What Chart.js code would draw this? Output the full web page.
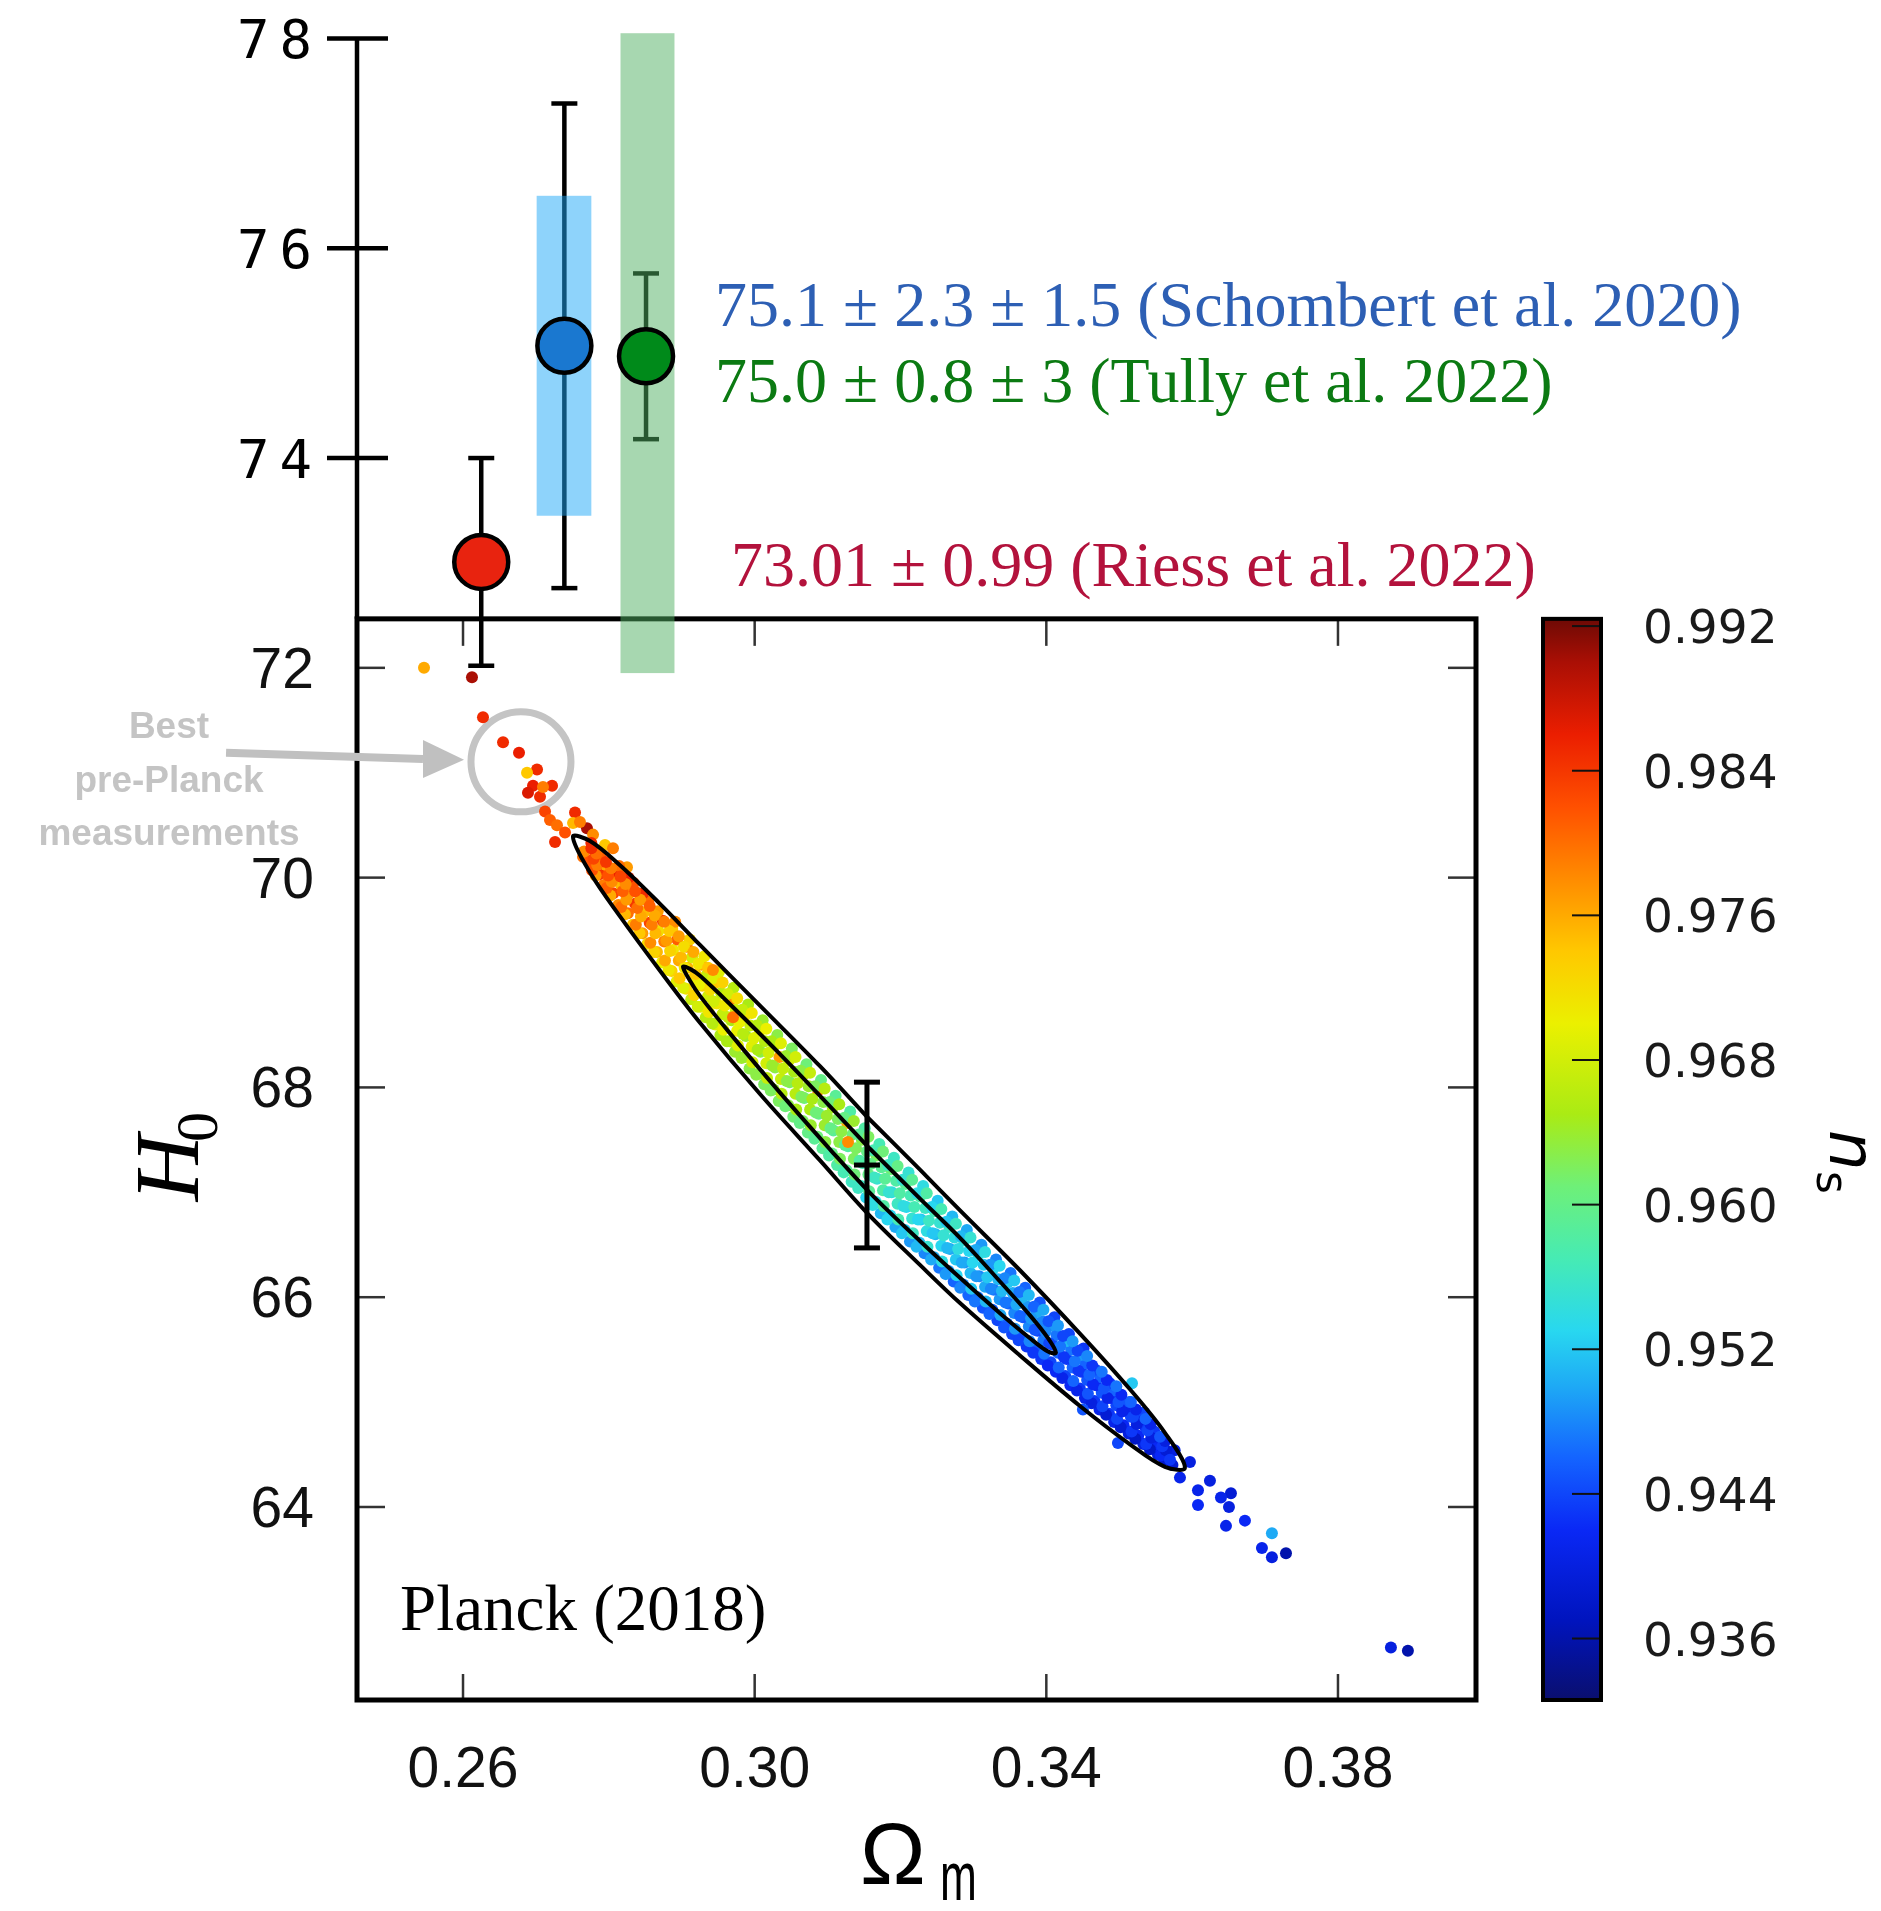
<!DOCTYPE html>
<html>
<head>
<meta charset="utf-8">
<script src="https://cdn.jsdelivr.net/npm/chart.js@4.4.1/dist/chart.umd.min.js"></script>
<style>
  html, body { margin: 0; padding: 0; background: #fff; }
  #wrap { width: 1881px; height: 1911px; }
</style>
</head>
<body>
<div id="wrap"><canvas id="c" width="1881" height="1911"></canvas></div>
<script>
"use strict";

// Tick labels
const xTicks = [0.26, 0.30, 0.34, 0.38];
const yTicksLow = [64, 66, 68, 70, 72];
const yTicksUp = [74, 76, 78];
const nsTicks = [0.936, 0.944, 0.952, 0.960, 0.968, 0.976, 0.984, 0.992];

// Local H0 measurements (upper panel): Riess, Schombert, Tully
const measOm = [0.2625, 0.2739, 0.2851];
const measH0 = [73.01, 75.07, 74.97];
const measErr = [0.99, 2.31, 0.79];
const measColor = ["#e8230f", "#1a78d0", "#008a1a"];
const bandOmLo = [null, 0.2701, 0.2816];
const bandOmHi = [null, 0.2776, 0.2890];
const bandH0Lo = [null, 73.45, 71.95];
const bandH0Hi = [null, 76.50, 78.05];

// Planck point with error bar
const planckOm = 0.3154;
const planckH0 = 67.26;
const planckErr = 0.79;

// Contours (outer and inner)
const outerOm = [0.3154, 0.32267, 0.32816, 0.33638, 0.34461, 0.35147, 0.35627, 0.35901,
  0.35627, 0.35147, 0.34461, 0.33638, 0.32816, 0.32267, 0.3154, 0.30896, 0.30073, 0.2925,
  0.28702, 0.28153, 0.27742, 0.27508, 0.27742, 0.28153, 0.28702, 0.2925, 0.30073, 0.30896, 0.3154];
const outerH0 = [67.720, 67.216, 66.827, 66.257, 65.653, 65.122, 64.707, 64.374,
  64.383, 64.598, 64.963, 65.445, 65.944, 66.308, 66.805, 67.304, 67.937, 68.617,
  69.112, 69.630, 70.048, 70.389, 70.349, 70.118, 69.750, 69.358, 68.780, 68.202, 67.720];
const innerOm = [0.31581, 0.32267, 0.32816, 0.33364, 0.33776, 0.34023, 0.34132,
  0.34023, 0.33776, 0.33364, 0.32816, 0.32267, 0.31581, 0.31033, 0.30347, 0.29662, 0.2925,
  0.29113, 0.29017, 0.29113, 0.2925, 0.29662, 0.30347, 0.31033, 0.31581];
const innerH0 = [67.415, 66.940, 66.566, 66.150, 65.827, 65.610, 65.470,
  65.482, 65.609, 65.848, 66.185, 66.536, 66.995, 67.410, 67.950, 68.515, 68.873,
  69.017, 69.150, 69.130, 69.064, 68.793, 68.318, 67.820, 67.415];

// Chain samples [Omega_m, H0, n_s]
const samples = [
  [0.25465,72.00,0.976],[0.26123,71.91,0.990],[0.26274,71.53,0.985],[0.26549,71.29,0.985],
  [0.26768,71.19,0.986],[0.27015,71.03,0.985],[0.26878,71.00,0.974],[0.2696,70.875,0.986],
  [0.26891,70.81,0.987],[0.27056,70.77,0.985],[0.27221,70.875,0.985],[0.27097,70.865,0.979],
  [0.27125,70.63,0.983],[0.27193,70.55,0.981],[0.27289,70.50,0.980],[0.27262,70.34,0.985],
  [0.27399,70.43,0.982],[0.27536,70.62,0.985],[0.27509,70.52,0.975],[0.27700,70.47,0.990],
  [0.27604,70.53,0.979],[0.27783,70.41,0.978],[0.27947,70.31,0.974],[0.28057,70.28,0.979],
  [0.28249,70.10,0.977],[0.27975,70.07,0.985],[0.27838,70.14,0.983],[0.27646,70.20,0.980],
  [0.2773,70.15,0.982],[0.2766,70.25,0.978],[0.2776,70.33,0.985],
  [0.2793,69.93,0.979],[0.2786,70.03,0.984],[0.2796,70.12,0.976],[0.2788,70.21,0.981],
  [0.2813,69.74,0.978],[0.2806,69.85,0.983],[0.2816,69.94,0.975],[0.2808,70.03,0.986],[0.2814,70.11,0.980],
  [0.2833,69.55,0.974],[0.2826,69.66,0.980],[0.2836,69.75,0.984],[0.2828,69.85,0.977],[0.2834,69.95,0.982],[0.2827,70.00,0.986],
  [0.2853,69.37,0.972],[0.2846,69.47,0.977],[0.2856,69.57,0.983],[0.2848,69.67,0.975],[0.2854,69.77,0.980],[0.2847,69.85,0.985],
  [0.2873,69.19,0.970],[0.2866,69.29,0.975],[0.2876,69.39,0.979],[0.2868,69.49,0.972],[0.2874,69.59,0.984],[0.2867,69.68,0.977],
  [0.2893,69.01,0.969],[0.2886,69.11,0.973],[0.2896,69.21,0.976],[0.2888,69.31,0.971],[0.2894,69.41,0.981],[0.2887,69.51,0.974],[0.2891,69.58,0.978],
  [0.2913,68.84,0.967],[0.2906,68.94,0.972],[0.2916,69.04,0.970],[0.2908,69.14,0.975],[0.2914,69.24,0.968],[0.2907,69.34,0.979],[0.2911,69.41,0.973],
  [0.2933,68.67,0.966],[0.2926,68.77,0.970],[0.2936,68.87,0.968],[0.2928,68.97,0.973],[0.2934,69.07,0.967],[0.2927,69.17,0.976],[0.2931,69.25,0.971],
  [0.2953,68.50,0.965],[0.2946,68.60,0.969],[0.2956,68.70,0.967],[0.2948,68.80,0.971],[0.2954,68.90,0.966],[0.2947,69.00,0.974],[0.2951,69.10,0.969],
  [0.2973,68.34,0.964],[0.2966,68.44,0.967],[0.2976,68.54,0.970],[0.2968,68.64,0.965],[0.2974,68.74,0.968],[0.2967,68.84,0.978],[0.2971,68.95,0.966],
  [0.2993,68.18,0.963],[0.2986,68.29,0.966],[0.2996,68.39,0.969],[0.2988,68.49,0.964],[0.2994,68.59,0.967],[0.2987,68.69,0.971],[0.2991,68.79,0.965],
  [0.3013,68.03,0.962],[0.3006,68.13,0.965],[0.3016,68.23,0.968],[0.3008,68.34,0.963],[0.3014,68.44,0.966],[0.3007,68.54,0.969],[0.3011,68.64,0.964],
  [0.3033,67.87,0.962],[0.3026,67.98,0.964],[0.3036,68.08,0.967],[0.3028,68.19,0.963],[0.3034,68.29,0.977],[0.3027,68.40,0.966],[0.3031,68.50,0.963],
  [0.3053,67.72,0.961],[0.3046,67.83,0.963],[0.3056,67.94,0.966],[0.3048,68.05,0.962],[0.3054,68.15,0.965],[0.3047,68.26,0.968],[0.3051,68.37,0.962],
  [0.3073,67.57,0.960],[0.3066,67.68,0.962],[0.3076,67.79,0.965],[0.3068,67.90,0.961],[0.3074,68.01,0.964],[0.3067,68.12,0.967],[0.3071,68.22,0.961],
  [0.3093,67.42,0.959],[0.3086,67.53,0.961],[0.3096,67.64,0.964],[0.3088,67.75,0.960],[0.3094,67.86,0.963],[0.3087,67.97,0.979],[0.3091,68.07,0.960],
  [0.3113,67.26,0.958],[0.3106,67.37,0.960],[0.3116,67.48,0.963],[0.3108,67.59,0.959],[0.3114,67.70,0.962],[0.3107,67.81,0.965],[0.3111,67.92,0.959],
  [0.3133,67.10,0.956],[0.3126,67.21,0.959],[0.3136,67.32,0.962],[0.3128,67.44,0.958],[0.3134,67.55,0.961],[0.3127,67.66,0.976],[0.3131,67.77,0.958],
  [0.3153,66.95,0.953],[0.3146,67.06,0.956],[0.3156,67.17,0.960],[0.3148,67.28,0.957],[0.3154,67.39,0.960],[0.3147,67.50,0.963],[0.3151,67.61,0.958],
  [0.3173,66.80,0.951],[0.3166,66.91,0.954],[0.3176,67.02,0.958],[0.3168,67.13,0.955],[0.3174,67.24,0.959],[0.3167,67.35,0.962],[0.3171,67.46,0.957],
  [0.3193,66.67,0.950],[0.3186,66.78,0.953],[0.3196,66.89,0.956],[0.3188,67.00,0.954],[0.3194,67.11,0.958],[0.3187,67.22,0.961],[0.3191,67.33,0.956],
  [0.3213,66.53,0.949],[0.3206,66.64,0.952],[0.3216,66.75,0.955],[0.3208,66.86,0.953],[0.3214,66.97,0.957],[0.3207,67.08,0.959],[0.3211,67.19,0.955],
  [0.3233,66.42,0.948],[0.3226,66.52,0.951],[0.3236,66.63,0.954],[0.3228,66.74,0.952],[0.3234,66.85,0.956],[0.3227,66.96,0.958],[0.3231,67.06,0.954],
  [0.3253,66.28,0.947],[0.3246,66.38,0.950],[0.3256,66.49,0.953],[0.3248,66.60,0.951],[0.3254,66.71,0.955],[0.3247,66.82,0.957],[0.3251,66.92,0.952],
  [0.3273,66.15,0.946],[0.3266,66.25,0.949],[0.3276,66.36,0.952],[0.3268,66.46,0.950],[0.3274,66.57,0.954],[0.3267,66.67,0.956],[0.3271,66.77,0.951],
  [0.3293,66.02,0.946],[0.3286,66.12,0.948],[0.3296,66.23,0.951],[0.3288,66.33,0.949],[0.3294,66.44,0.953],[0.3287,66.54,0.955],[0.3291,66.64,0.950],
  [0.3313,65.90,0.945],[0.3306,66.00,0.947],[0.3316,66.10,0.950],[0.3308,66.20,0.948],[0.3314,66.31,0.952],[0.3307,66.41,0.954],[0.3311,66.50,0.949],
  [0.3333,65.78,0.944],[0.3326,65.88,0.946],[0.3336,65.98,0.949],[0.3328,66.07,0.947],[0.3334,66.17,0.951],[0.3327,66.27,0.953],[0.3331,66.36,0.948],
  [0.3353,65.65,0.944],[0.3346,65.75,0.946],[0.3356,65.85,0.948],[0.3348,65.94,0.946],[0.3354,66.04,0.950],[0.3347,66.14,0.952],[0.3351,66.23,0.947],
  [0.3373,65.53,0.943],[0.3366,65.62,0.945],[0.3376,65.72,0.948],[0.3368,65.81,0.945],[0.3374,65.91,0.949],[0.3367,66.00,0.951],[0.3371,66.09,0.946],
  [0.3393,65.41,0.943],[0.3386,65.50,0.945],[0.3396,65.59,0.947],[0.3388,65.68,0.944],[0.3394,65.77,0.948],[0.3387,65.86,0.950],[0.3391,65.95,0.945],
  [0.3413,65.29,0.942],[0.3406,65.38,0.944],[0.3416,65.47,0.946],[0.3408,65.55,0.944],[0.3414,65.64,0.947],[0.3407,65.73,0.949],[0.3411,65.81,0.944],
  [0.3433,65.16,0.942],[0.3426,65.25,0.944],[0.3436,65.33,0.946],[0.3428,65.41,0.943],[0.3434,65.50,0.947],[0.3427,65.58,0.951],[0.3431,65.65,0.944],
  [0.3453,65.04,0.941],[0.3446,65.13,0.943],[0.3456,65.21,0.945],[0.3448,65.29,0.943],[0.3454,65.37,0.946],[0.3447,65.45,0.949],[0.3451,65.51,0.943],
  [0.3473,64.93,0.941],[0.3466,65.01,0.943],[0.3476,65.09,0.945],[0.3468,65.16,0.942],[0.3474,65.24,0.946],[0.3467,65.31,0.944],
  [0.3493,64.81,0.941],[0.3486,64.89,0.943],[0.3496,64.97,0.944],[0.3488,65.04,0.942],[0.3494,65.11,0.946],[0.3487,65.18,0.943],
  [0.3513,64.70,0.940],[0.3506,64.78,0.942],[0.3516,64.86,0.944],[0.3508,64.93,0.941],[0.3514,65.00,0.945],
  [0.3533,64.60,0.940],[0.3526,64.68,0.942],[0.3536,64.76,0.943],[0.3528,64.83,0.941],[0.3534,64.90,0.944],
  [0.3553,64.50,0.940],[0.3546,64.58,0.942],[0.3556,64.65,0.941],[0.3548,64.72,0.943],
  [0.3573,64.40,0.939],[0.3566,64.47,0.941],[0.3576,64.54,0.940],
  // second pass, between the rows above
  [0.2782,70.02,0.977],[0.2777,70.07,0.982],[0.2784,70.12,0.979],[0.2779,70.18,0.983],[0.2783,70.23,0.980],[0.2776,70.28,0.985],
  [0.2802,69.83,0.976],[0.2797,69.90,0.981],[0.2804,69.96,0.978],[0.2799,70.02,0.982],[0.2803,70.09,0.979],[0.2796,70.15,0.984],
  [0.2822,69.65,0.975],[0.2817,69.72,0.980],[0.2824,69.79,0.977],[0.2819,69.87,0.981],[0.2823,69.94,0.978],[0.2816,70.01,0.983],
  [0.2842,69.47,0.974],[0.2837,69.55,0.979],[0.2844,69.63,0.976],[0.2839,69.71,0.980],[0.2843,69.79,0.977],[0.2836,69.87,0.982],
  [0.2862,69.29,0.973],[0.2857,69.38,0.978],[0.2864,69.47,0.975],[0.2859,69.55,0.979],[0.2863,69.64,0.976],[0.2856,69.73,0.981],
  [0.2882,69.12,0.971],[0.2877,69.21,0.976],[0.2884,69.30,0.973],[0.2879,69.40,0.977],[0.2883,69.49,0.974],[0.2876,69.58,0.979],
  [0.2902,68.95,0.969],[0.2897,69.04,0.974],[0.2904,69.14,0.971],[0.2899,69.24,0.975],[0.2903,69.34,0.972],[0.2896,69.44,0.977],
  [0.2922,68.77,0.968],[0.2917,68.88,0.973],[0.2924,68.98,0.970],[0.2919,69.08,0.974],[0.2923,69.18,0.971],[0.2916,69.29,0.976],
  [0.2942,68.61,0.966],[0.2937,68.72,0.971],[0.2944,68.82,0.968],[0.2939,68.93,0.972],[0.2943,69.04,0.969],[0.2936,69.14,0.974],
  [0.2962,68.44,0.965],[0.2957,68.55,0.970],[0.2964,68.67,0.967],[0.2959,68.78,0.971],[0.2963,68.89,0.968],[0.2956,69.00,0.973],
  [0.2982,68.28,0.964],[0.2977,68.40,0.969],[0.2984,68.51,0.966],[0.2979,68.62,0.970],[0.2983,68.74,0.967],[0.2976,68.85,0.972],
  [0.3002,68.12,0.963],[0.2997,68.24,0.968],[0.3004,68.36,0.965],[0.2999,68.47,0.969],[0.3003,68.59,0.966],[0.2996,68.71,0.971],
  [0.3022,67.97,0.962],[0.3017,68.09,0.967],[0.3024,68.21,0.964],[0.3019,68.33,0.968],[0.3023,68.44,0.965],[0.3016,68.56,0.970],
  [0.3042,67.82,0.961],[0.3037,67.94,0.966],[0.3044,68.06,0.963],[0.3039,68.18,0.967],[0.3043,68.30,0.964],[0.3036,68.42,0.969],
  [0.3062,67.66,0.960],[0.3057,67.79,0.965],[0.3064,67.91,0.962],[0.3059,68.04,0.966],[0.3063,68.16,0.963],[0.3056,68.29,0.968],
  [0.3082,67.51,0.959],[0.3077,67.64,0.964],[0.3084,67.76,0.961],[0.3079,67.89,0.965],[0.3083,68.01,0.962],[0.3076,68.14,0.967],
  [0.3102,67.35,0.958],[0.3097,67.48,0.963],[0.3104,67.61,0.960],[0.3099,67.73,0.964],[0.3103,67.86,0.961],[0.3096,67.99,0.966],
  [0.3122,67.19,0.957],[0.3117,67.32,0.962],[0.3124,67.45,0.959],[0.3119,67.58,0.963],[0.3123,67.71,0.960],[0.3116,67.84,0.965],
  [0.3142,67.04,0.956],[0.3137,67.17,0.961],[0.3144,67.30,0.958],[0.3139,67.42,0.962],[0.3143,67.55,0.959],[0.3136,67.68,0.964],
  [0.3162,66.88,0.954],[0.3157,67.01,0.959],[0.3164,67.14,0.956],[0.3159,67.27,0.960],[0.3163,67.40,0.957],[0.3156,67.53,0.962],
  [0.3182,66.74,0.953],[0.3177,66.87,0.958],[0.3184,67.00,0.955],[0.3179,67.13,0.959],[0.3183,67.26,0.956],[0.3176,67.39,0.961],
  [0.3202,66.61,0.952],[0.3197,66.74,0.957],[0.3204,66.87,0.954],[0.3199,66.99,0.958],[0.3203,67.12,0.955],[0.3196,67.25,0.960],
  [0.3222,66.48,0.951],[0.3217,66.61,0.956],[0.3224,66.74,0.953],[0.3219,66.86,0.957],[0.3223,66.99,0.954],[0.3216,67.12,0.959],
  [0.3242,66.36,0.950],[0.3237,66.48,0.955],[0.3244,66.61,0.952],[0.3239,66.73,0.956],[0.3243,66.86,0.953],[0.3236,66.99,0.958],
  [0.3262,66.22,0.949],[0.3257,66.34,0.954],[0.3264,66.47,0.951],[0.3259,66.59,0.955],[0.3263,66.72,0.952],[0.3256,66.84,0.957],
  [0.3282,66.09,0.948],[0.3277,66.21,0.953],[0.3284,66.33,0.950],[0.3279,66.46,0.954],[0.3283,66.58,0.951],[0.3276,66.70,0.956],
  [0.3302,65.96,0.947],[0.3297,66.08,0.952],[0.3304,66.20,0.949],[0.3299,66.33,0.953],[0.3303,66.45,0.950],[0.3296,66.57,0.955],
  [0.3322,65.84,0.946],[0.3317,65.96,0.951],[0.3324,66.08,0.948],[0.3319,66.19,0.952],[0.3323,66.31,0.949],[0.3316,66.43,0.954],
  [0.3342,65.71,0.945],[0.3337,65.83,0.950],[0.3344,65.95,0.947],[0.3339,66.06,0.951],[0.3343,66.18,0.948],[0.3336,66.30,0.953],
  [0.3362,65.59,0.944],[0.3357,65.70,0.949],[0.3364,65.82,0.946],[0.3359,65.93,0.950],[0.3363,66.05,0.947],[0.3356,66.16,0.952],
  [0.3382,65.47,0.943],[0.3377,65.58,0.948],[0.3384,65.69,0.945],[0.3379,65.80,0.949],[0.3383,65.91,0.946],[0.3376,66.02,0.951],
  [0.3402,65.35,0.942],[0.3397,65.46,0.947],[0.3404,65.56,0.944],[0.3399,65.67,0.948],[0.3403,65.77,0.945],[0.3396,65.88,0.950],
  [0.3422,65.23,0.941],[0.3417,65.33,0.946],[0.3424,65.43,0.943],[0.3419,65.53,0.947],[0.3423,65.63,0.944],[0.3416,65.73,0.949],
  [0.3442,65.11,0.941],[0.3437,65.20,0.946],[0.3444,65.30,0.943],[0.3439,65.39,0.947],[0.3443,65.49,0.944],[0.3436,65.58,0.949],
  [0.3462,64.99,0.940],[0.3457,65.08,0.945],[0.3464,65.17,0.942],[0.3459,65.26,0.946],[0.3463,65.35,0.943],[0.3456,65.44,0.948],
  [0.3482,64.88,0.939],[0.3477,64.96,0.944],[0.3484,65.04,0.941],[0.3479,65.13,0.945],[0.3483,65.21,0.942],[0.3476,65.29,0.947],
  [0.3502,64.76,0.939],[0.3497,64.84,0.944],[0.3504,64.91,0.941],[0.3499,65.00,0.945],[0.3503,65.07,0.942],[0.3496,65.15,0.947],
  [0.3522,64.65,0.938],[0.3517,64.72,0.943],[0.3524,64.79,0.940],[0.3519,64.86,0.944],[0.3523,64.93,0.941],[0.3516,65.00,0.946],
  [0.3542,64.55,0.938],[0.3537,64.60,0.943],[0.3544,64.66,0.940],[0.3539,64.73,0.944],[0.3543,64.79,0.941],[0.3536,64.84,0.946],
  [0.3562,64.45,0.938],[0.3557,64.49,0.942],[0.3564,64.54,0.939],[0.3559,64.58,0.943],[0.3563,64.63,0.940],[0.3556,64.67,0.945],
  // tails and strays
  [0.35833,64.28,0.941],[0.35696,64.45,0.943],[0.3597,64.43,0.940],[0.34982,64.61,0.944],[0.34502,64.93,0.945],
  [0.35175,65.18,0.952],[0.36080,64.16,0.941],[0.36244,64.25,0.940],[0.36532,64.13,0.939],[0.36395,64.09,0.941],
  [0.3608,64.02,0.942],[0.36505,64.00,0.940],[0.36464,63.82,0.941],[0.36724,63.87,0.942],[0.37094,63.75,0.950],
  [0.36957,63.61,0.941],[0.37094,63.52,0.940],[0.37287,63.56,0.936],[0.38726,62.66,0.940],[0.38959,62.63,0.936],
  [0.29703,68.67,0.980],[0.3128,67.48,0.978],[0.29428,69.12,0.978]
];

// jet-like colour map for n_s
const nsMin = 0.9326, nsMax = 0.9924;
const nsStops = [
  [0.9326, [10, 15, 110]], [0.9370, [0, 20, 190]], [0.9420, [10, 40, 245]],
  [0.9460, [20, 100, 255]], [0.9500, [30, 170, 245]], [0.9530, [40, 215, 240]],
  [0.9570, [70, 235, 180]], [0.9610, [110, 240, 120]], [0.9650, [170, 235, 20]],
  [0.9700, [235, 240, 0]], [0.9740, [255, 200, 0]], [0.9780, [255, 140, 0]],
  [0.9820, [255, 80, 0]], [0.9860, [235, 30, 0]], [0.9900, [170, 15, 5]],
  [0.9924, [110, 10, 5]]
];
function nsColor(v) {
  if (v <= nsStops[0][0]) return "rgb(" + nsStops[0][1].join(",") + ")";
  for (let i = 1; i < nsStops.length; i++) {
    if (v <= nsStops[i][0]) {
      const a = nsStops[i - 1], b = nsStops[i];
      const t = (v - a[0]) / (b[0] - a[0]);
      const c = a[1].map((q, k) => Math.round(q + (b[1][k] - q) * t));
      return "rgb(" + c.join(",") + ")";
    }
  }
  return "rgb(" + nsStops[nsStops.length - 1][1].join(",") + ")";
}

const PANEL_TOP = 72.467;   // H0 where the Planck box starts

function line(ctx, x1, y1, x2, y2) {
  ctx.beginPath(); ctx.moveTo(x1, y1); ctx.lineTo(x2, y2); ctx.stroke();
}

const decor = {
  id: "decor",
  beforeDatasetsDraw(chart) {
    const { ctx, chartArea: a, scales: { x, y } } = chart;
    const top = y.getPixelForValue(PANEL_TOP);
    const bot = a.bottom;
    ctx.save();
    ctx.lineCap = "butt";

    // annotation ring
    ctx.strokeStyle = "#c4c4c4";
    ctx.lineWidth = 7;
    ctx.beginPath();
    ctx.arc(x.getPixelForValue(0.26795), y.getPixelForValue(71.104), 50, 0, Math.PI * 2);
    ctx.stroke();

    // box ticks
    ctx.strokeStyle = "#333";
    ctx.lineWidth = 2.5;
    xTicks.forEach(v => {
      const px = x.getPixelForValue(v);
      line(ctx, px, bot, px, bot - 26);
      line(ctx, px, top, px, top + 27);
    });
    yTicksLow.forEach(v => {
      const py = y.getPixelForValue(v);
      line(ctx, a.left, py, a.left + 28, py);
      line(ctx, a.right, py, a.right - 28, py);
    });

    // box
    ctx.strokeStyle = "#000";
    ctx.lineWidth = 5;
    ctx.strokeRect(a.left, top, a.right - a.left, bot - top);

    // upper axis
    ctx.lineWidth = 4.5;
    line(ctx, a.left, y.getPixelForValue(78), a.left, top);
    yTicksUp.forEach(v => {
      const py = y.getPixelForValue(v);
      line(ctx, a.left - 30, py, a.left + 31, py);
    });

    // arrow
    ctx.strokeStyle = "#c0c0c0";
    ctx.fillStyle = "#c0c0c0";
    ctx.lineWidth = 8;
    const ax0 = x.getPixelForValue(0.2275), ay0 = y.getPixelForValue(71.19);
    const ax1 = x.getPixelForValue(0.25451), ay1 = y.getPixelForValue(71.13);
    const ax2 = x.getPixelForValue(0.26014), ay2 = y.getPixelForValue(71.123);
    line(ctx, ax0, ay0, ax1, ay1);
    ctx.beginPath();
    ctx.moveTo(ax1, ay1 - 19); ctx.lineTo(ax2, ay2); ctx.lineTo(ax1, ay1 + 19);
    ctx.closePath(); ctx.fill();

    // error bars of local measurements
    ctx.strokeStyle = "#000";
    ctx.lineWidth = 4.5;
    measOm.forEach((om, i) => {
      const px = x.getPixelForValue(om);
      const y1 = y.getPixelForValue(measH0[i] - measErr[i]);
      const y2 = y.getPixelForValue(measH0[i] + measErr[i]);
      line(ctx, px, y1, px, y2);
      line(ctx, px - 13, y1, px + 13, y1);
      line(ctx, px - 13, y2, px + 13, y2);
    });

    // systematic bands
    const bandFill = [null, "rgba(30,168,248,0.5)", "rgba(80,176,98,0.5)"];
    measOm.forEach((om, i) => {
      if (bandOmLo[i] == null) return;
      const l = x.getPixelForValue(bandOmLo[i]), r = x.getPixelForValue(bandOmHi[i]);
      const t = y.getPixelForValue(bandH0Hi[i]), b = y.getPixelForValue(bandH0Lo[i]);
      ctx.fillStyle = bandFill[i];
      ctx.fillRect(l, t, r - l, b - t);
    });

    // colour bar
    const cbL = 1543, cbR = 1601;
    const nsPix = v => bot + (v - nsMin) / (nsMax - nsMin) * (top - bot);
    const g = ctx.createLinearGradient(0, bot, 0, top);
    nsStops.forEach(s => g.addColorStop((s[0] - nsMin) / (nsMax - nsMin), nsColor(s[0])));
    ctx.fillStyle = g;
    ctx.fillRect(cbL, top, cbR - cbL, bot - top);
    ctx.strokeStyle = "#111";
    ctx.lineWidth = 2;
    nsTicks.forEach(v => line(ctx, cbR - 29, nsPix(v), cbR, nsPix(v)));
    ctx.strokeStyle = "#000";
    ctx.lineWidth = 4;
    ctx.strokeRect(cbL, top, cbR - cbL, bot - top);
    ctx.restore();
  },
  afterDatasetsDraw(chart) {
    const { ctx, chartArea: a, scales: { x, y } } = chart;
    const top = y.getPixelForValue(PANEL_TOP);
    const bot = a.bottom;
    ctx.save();

    // Planck error bar
    ctx.strokeStyle = "#000";
    ctx.lineWidth = 5;
    const px = x.getPixelForValue(planckOm);
    const pc = y.getPixelForValue(planckH0);
    const p1 = y.getPixelForValue(planckH0 - planckErr), p2 = y.getPixelForValue(planckH0 + planckErr);
    line(ctx, px, p1, px, p2);
    [p1, pc, p2].forEach(py => line(ctx, px - 13, py, px + 13, py));

    // tick labels
    ctx.fillStyle = "#111";
    ctx.textAlign = "center";
    ctx.textBaseline = "alphabetic";
    ctx.font = "57px 'Liberation Sans'";
    xTicks.forEach(v => ctx.fillText(v.toFixed(2), x.getPixelForValue(v), bot + 87));
    ctx.textAlign = "right";
    yTicksLow.forEach(v => ctx.fillText(String(v), 314, y.getPixelForValue(v) + 20));
    ctx.font = "54px 'DejaVu Sans Mono'";
    ctx.fillStyle = "#000";
    ctx.letterSpacing = "10px";
    yTicksUp.forEach(v => ctx.fillText(String(v), 322, y.getPixelForValue(v) + 20));
    ctx.letterSpacing = "0px";

    // colour bar labels
    const nsPix = v => bot + (v - nsMin) / (nsMax - nsMin) * (top - bot);
    ctx.textAlign = "left";
    ctx.font = "47px 'DejaVu Sans'";
    ctx.fillStyle = "#1a1a1a";
    nsTicks.forEach(v => ctx.fillText(v.toFixed(3), 1643, nsPix(v) + 17));

    // axis titles
    ctx.fillStyle = "#000";
    ctx.font = "88px 'Liberation Sans'";
    ctx.fillText("\u03A9", 860, 1884);
    ctx.save();
    ctx.translate(940, 1900);
    ctx.scale(0.65, 1);
    ctx.font = "68px 'Liberation Sans'";
    ctx.fillText("m", 0, 0);
    ctx.restore();

    ctx.save();
    ctx.translate(167, 1168);
    ctx.rotate(-Math.PI / 2);
    ctx.textAlign = "center";
    ctx.font = "italic 92px 'Liberation Serif'";
    ctx.fillText("H", 0, 31);
    ctx.font = "60px 'Liberation Serif'";
    ctx.fillText("0", 41, 50);
    ctx.restore();

    ctx.save();
    ctx.translate(1850, 1150);
    ctx.rotate(Math.PI / 2);
    ctx.textAlign = "left";
    ctx.font = "italic 64px 'DejaVu Sans'";
    ctx.fillText("n", -20, 20);
    ctx.font = "44px 'DejaVu Sans'";
    ctx.fillText("s", 21, 33);
    ctx.restore();

    // annotations
    ctx.textAlign = "left";
    ctx.font = "64px 'Liberation Serif'";
    ctx.fillStyle = "#2d5fb4";
    ctx.fillText("75.1 \u00B1 2.3 \u00B1 1.5 (Schombert et al. 2020)", 715, 326);
    ctx.fillStyle = "#0b7a12";
    ctx.fillText("75.0 \u00B1 0.8 \u00B1 3 (Tully et al. 2022)", 715, 402);
    ctx.fillStyle = "#b3123c";
    ctx.fillText("73.01 \u00B1 0.99 (Riess et al. 2022)", 731, 586);
    ctx.fillStyle = "#000";
    ctx.font = "65px 'Liberation Serif'";
    ctx.fillText("Planck (2018)", 400, 1630);

    ctx.textAlign = "center";
    ctx.fillStyle = "#c4c4c4";
    ctx.font = "bold 37px 'Liberation Sans'";
    ctx.fillText("Best", 169, 738);
    ctx.fillText("pre-Planck", 169, 792);
    ctx.fillText("measurements", 169, 845);
    ctx.restore();
  }
};

const toXY = (oms, hs) => oms.map((v, i) => ({ x: v, y: hs[i] }));

new Chart(document.getElementById("c").getContext("2d"), {
  type: "scatter",
  data: {
    datasets: [
      {
        label: "outer", data: toXY(outerOm, outerH0), showLine: true, tension: 0.35,
        borderColor: "#000", borderWidth: 4, pointRadius: 0, fill: false, order: 0
      },
      {
        label: "inner", data: toXY(innerOm, innerH0), showLine: true, tension: 0.35,
        borderColor: "#000", borderWidth: 4, pointRadius: 0, fill: false, order: 1
      },
      {
        label: "local", data: toXY(measOm, measH0), pointRadius: 27, borderWidth: 4.5,
        pointBackgroundColor: measColor, pointBorderColor: "#000", order: 2
      },
      {
        label: "chains", data: samples.map(s => ({ x: s[0], y: s[1] })),
        pointRadius: 6, borderWidth: 0,
        pointBackgroundColor: samples.map(s => nsColor(s[2])), order: 3
      }
    ]
  },
  options: {
    responsive: false,
    devicePixelRatio: 1,
    animation: false,
    layout: { autoPadding: false, padding: { left: 357, right: 405, top: 7, bottom: 211 } },
    plugins: { legend: { display: false }, tooltip: { enabled: false } },
    scales: {
      x: { type: "linear", min: 0.24546, max: 0.39893, display: false },
      y: { type: "linear", min: 62.16, max: 78.3, display: false }
    }
  },
  plugins: [decor]
});
</script>
</body>
</html>
